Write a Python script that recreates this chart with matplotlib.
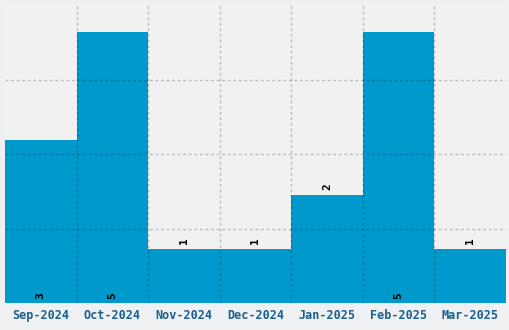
import numpy as np
import matplotlib
matplotlib.use('Agg')
import matplotlib.pyplot as plt

months = ['Sep-2024', 'Oct-2024', 'Nov-2024', 'Dec-2024', 'Jan-2025', 'Feb-2025', 'Mar-2025']
counts = [3, 5, 1, 1, 2, 5, 1]

fig = plt.figure(figsize=(5.1, 3.3), dpi=100, facecolor='#eef0f1')
ax = fig.add_axes([5/510., 27/330., 501/510., 298/330.])
ax.set_facecolor('#f1f1f1')

x = np.arange(len(months))
ax.bar(x, counts, width=1.0, color='#0099cc', zorder=1)

ax.set_xlim(-0.5, len(months) - 0.5)
ymax = 5.5
ax.set_ylim(0, ymax)

# labels in the middle of the bars, grid on the bar edges
ax.set_xticks(x)
ax.set_xticklabels(months, family='DejaVu Sans Mono', fontweight='bold',
                   fontsize=8.5, color='#1a5f8f')
ax.set_xticks(x[:-1] + 0.5, minor=True)
ax.set_yticks(np.linspace(0, ymax, 5)[1:-1])
ax.set_yticklabels([])
ax.tick_params(which='both', length=0, pad=4)
ax.tick_params(axis='y', left=False)
ax.grid(False)
ax.xaxis.grid(True, which='minor', ls=(0, (2, 2)), color='k', alpha=0.22, lw=1, zorder=3)
ax.yaxis.grid(True, which='major', ls=(0, (2, 2)), color='k', alpha=0.22, lw=1, zorder=3)
ax.set_axisbelow(False)
for s in ax.spines.values():
    s.set_visible(False)

for xi, c in zip(x, counts):
    if c >= 3:
        ax.text(xi, 0.08, str(c), rotation=90, ha='center', va='bottom',
                family='DejaVu Sans Mono', fontweight='bold', fontsize=8, zorder=4)
    else:
        ax.text(xi, c + 0.08, str(c), rotation=90, ha='center', va='bottom',
                family='DejaVu Sans Mono', fontweight='bold', fontsize=8, zorder=4)

fig.savefig('out.png', dpi=100, facecolor=fig.get_facecolor())
